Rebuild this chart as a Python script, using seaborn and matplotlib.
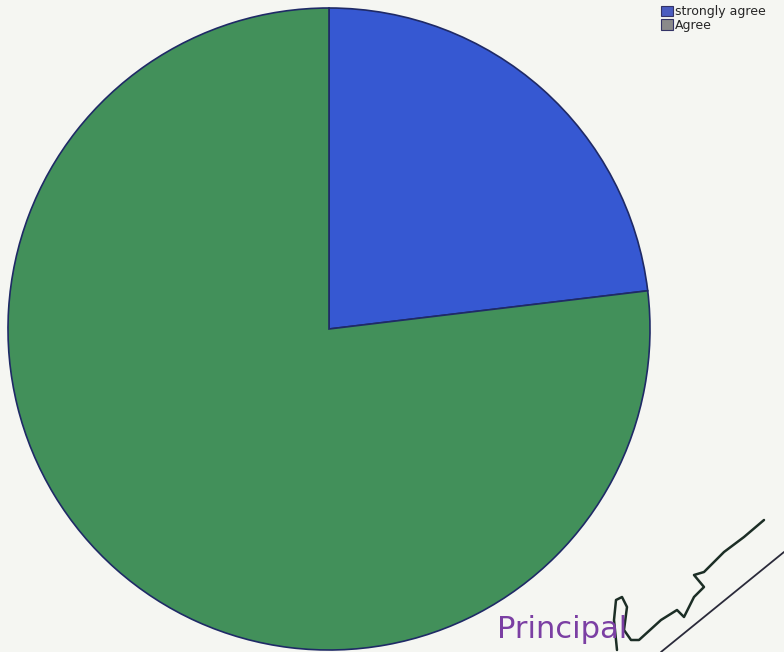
import matplotlib
matplotlib.use("Agg")
import matplotlib.pyplot as plt
import seaborn as sns
from matplotlib.patches import Patch
from matplotlib.lines import Line2D

sns.set_style("white")
plt.rcParams['font.family'] = ['Liberation Sans', 'DejaVu Sans']

categories = ["strongly agree", "Agree"]
values = [23.1, 76.9]
colors = ["#3658d2", "#42905a"]
legend_colors = ["#4a5cc0", "#8a8a8a"]

W, H = 784, 652
fig = plt.figure(figsize=(7.84, 6.52), dpi=100)
fig.patch.set_facecolor("#f5f6f2")
ax = fig.add_axes([8/W, 2/H, 642/W, 642/H])
ax.set_facecolor("#f5f6f2")
ax.pie(values, colors=colors, startangle=90, counterclock=False,
       wedgeprops=dict(edgecolor="#1f2a66", linewidth=1.2))
ax.set_aspect("equal")
ax.set_xlim(-1.0, 1.0)
ax.set_ylim(-1.0, 1.0)
ax.axis("off")

handles = [Patch(facecolor=c, edgecolor="#333366", linewidth=0.8) for c in legend_colors]
fig.legend(handles, categories, loc="upper left", bbox_to_anchor=(660/W, 1 - 4/H),
           frameon=False, fontsize=9, prop={'family': ['DejaVu Sans'], 'size': 9},
           handlelength=0.9, handleheight=0.9,
           handletextpad=0.2, labelspacing=0.05, borderpad=0.1, borderaxespad=0)

fig.text(497/W, 1 - 638/H, "Principal", color="#7b3fa3", fontsize=22,
         family=['DejaVu Sans'], ha="left", va="baseline")

# signature (decorative handwriting) and underline stroke
sig_x = [617, 614, 616, 622, 627, 624, 631, 639, 650, 661, 677, 684, 694, 704, 694, 704, 724, 744, 764]
sig_y = [650, 620, 600, 597, 607, 630, 640, 640, 630, 620, 610, 617, 597, 587, 575, 572, 552, 537, 520]
fig.add_artist(Line2D([x / W for x in sig_x], [1 - y / H for y in sig_y],
                      color="#1c2e26", linewidth=1.8, transform=fig.transFigure))
fig.add_artist(Line2D([661/W, 784/W], [1 - 652/H, 1 - 552/H],
                      color="#2a2a3a", linewidth=1.3, transform=fig.transFigure))

fig.savefig("out.png", dpi=100, facecolor=fig.get_facecolor())
